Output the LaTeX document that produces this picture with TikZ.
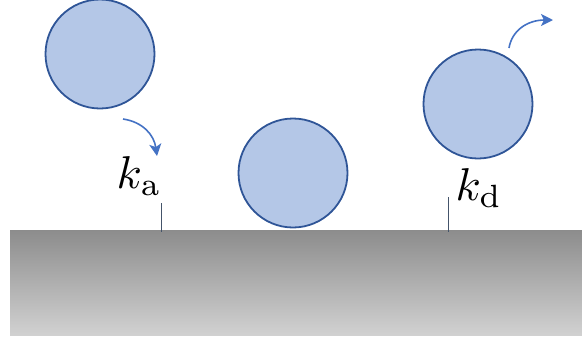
\documentclass[tikz,border=0pt]{standalone}
\usetikzlibrary{arrows.meta}
\definecolor{ballfill}{HTML}{B4C7E7}
\definecolor{balldraw}{HTML}{2F5597}
\definecolor{arrowblue}{HTML}{4472C4}
\definecolor{tickcol}{HTML}{44546A}
\tikzset{
  ball/.style={circle, draw=balldraw, fill=ballfill, line width=1.8pt, minimum size=109pt, inner sep=0pt},
  movearrow/.style={draw=arrowblue, line width=1.6pt, -{Stealth[length=12pt,width=12pt,inset=3pt]}},
  ticker/.style={draw=tickcol, line width=0.8pt},
  rate/.style={scale=4.6, inner sep=0pt}
}
\begin{document}
\begin{tikzpicture}[x=1pt,y=-1pt]
\useasboundingbox (0,0) rectangle (582,338);
\shade[top color=black!45, bottom color=black!18] (10,230) rectangle (582,335);
\node[ball] (b1) at (100,54) {};
\node[ball] (b2) at (293,173) {};
\node[ball] (b3) at (478,104) {};
\coordinate (a1s) at (123,119);
\coordinate (a1e) at (157,156);
\draw[movearrow] (a1s) .. controls (143,122) and (154,135) .. (a1e);
\coordinate (a2s) at (509,48);
\coordinate (a2e) at (553,20);
\draw[movearrow] (a2s) .. controls (512,30) and (528,20) .. (a2e);
\node[rate] (ka) at (139,176) {$k_{\mathrm{a}}$};
\node[rate] (kd) at (479,188) {$k_{\mathrm{d}}$};
\coordinate (t1a) at (161,203);
\coordinate (t1b) at (161,232);
\coordinate (t2a) at (448,197);
\coordinate (t2b) at (448,232);
\draw[ticker] (t1a) -- (t1b);
\draw[ticker] (t2a) -- (t2b);
\end{tikzpicture}
\end{document}
